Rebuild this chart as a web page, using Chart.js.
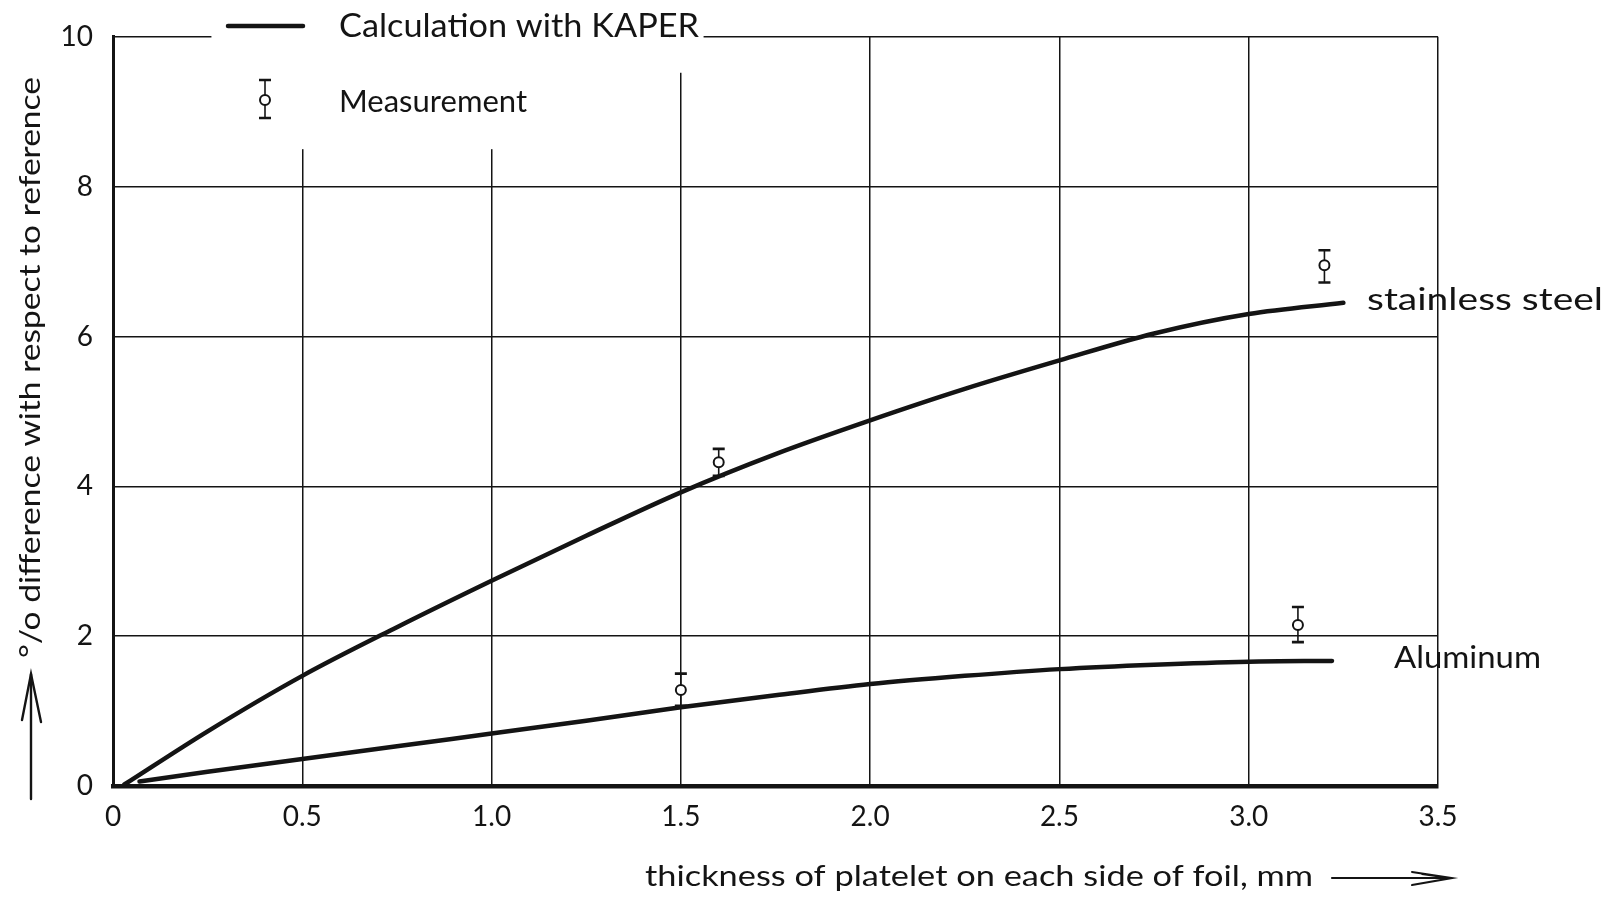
<!DOCTYPE html>
<html><head><meta charset="utf-8">
<script src="https://cdn.jsdelivr.net/npm/chart.js@4.4.1/dist/chart.umd.min.js"></script>
<style>html,body{margin:0;padding:0;background:#fff;}canvas{display:block;}</style>
</head><body>
<canvas id="c" width="1611" height="898"></canvas>
<script>
// ---- data ----
const xTicks = [0, 0.5, 1.0, 1.5, 2.0, 2.5, 3.0, 3.5];
const xTickLabels = ['0', '0.5', '1.0', '1.5', '2.0', '2.5', '3.0', '3.5'];
const yTicks = [0, 2, 4, 6, 8, 10];
const yTickLabels = ['0', '2', '4', '6', '8', '10'];
const steelX = [0.03, 0.25, 0.5, 0.75, 1.0, 1.25, 1.5, 1.75, 2.0, 2.25, 2.5, 2.75, 3.0, 3.25];
const steelY = [0.02, 0.73, 1.47, 2.12, 2.74, 3.34, 3.92, 4.43, 4.88, 5.30, 5.68, 6.04, 6.30, 6.45];
const aluX = [0.07, 0.25, 0.5, 0.75, 1.0, 1.25, 1.5, 1.75, 2.0, 2.25, 2.5, 2.75, 3.0, 3.22];
const aluY = [0.06, 0.19, 0.36, 0.53, 0.70, 0.87, 1.05, 1.21, 1.36, 1.47, 1.56, 1.62, 1.66, 1.67];
const measX = [1.5, 1.6, 3.13, 3.2];
const measY = [1.28, 4.32, 2.15, 6.95];
const measLow = [1.07, 4.14, 1.92, 6.72];
const measHigh = [1.50, 4.50, 2.39, 7.15];
const seriesLabels = ['stainless steel', 'Aluminum'];
const legendLabels = ['Calculation with KAPER', 'Measurement'];
const xTitle = 'thickness of platelet on each side of foil, mm';
const yTitle = '°/o difference with respect to reference';

const INK = '#141414';
const FONT = 'Lato, "Open Sans", sans-serif';

function fitText(ctx, text, left, right, baseline, size, rot) {
  ctx.save();
  ctx.font = size + 'px ' + FONT;
  ctx.fillStyle = INK;
  ctx.textBaseline = 'alphabetic';
  ctx.textAlign = 'left';
  const w = ctx.measureText(text).width;
  const s = (right - left) / w;
  if (rot) {
    // text reading bottom-to-top; left=bottom y, right=top y, baseline=x
    ctx.translate(baseline, left);
    ctx.rotate(-Math.PI / 2);
    ctx.scale((left - right) / w, 1);
    ctx.fillText(text, 0, 0);
  } else {
    ctx.translate(left, baseline);
    ctx.scale(s, 1);
    ctx.fillText(text, 0, 0);
  }
  ctx.restore();
}

const decor = {
  id: 'decor',
  beforeDatasetsDraw(chart) {
    const { ctx, scales: { x, y } } = chart;
    ctx.save();
    // blank part of the grid behind the legend
    ctx.fillStyle = '#fff';
    const top = y.getPixelForValue(10) - 4;
    let x1 = x.getPixelForValue(0.26), x2 = x.getPixelForValue(1.47);
    let yb = y.getPixelForValue(8.5);
    ctx.fillRect(x1, top, x2 - x1, yb - top);
    x1 = x2; x2 = x.getPixelForValue(1.56); yb = y.getPixelForValue(9.52);
    ctx.fillRect(x1, top, x2 - x1, yb - top);
    // error bars
    ctx.strokeStyle = INK;
    for (let i = 0; i < measX.length; i++) {
      const px = x.getPixelForValue(measX[i]);
      const pl = y.getPixelForValue(measLow[i]);
      const ph = y.getPixelForValue(measHigh[i]);
      ctx.lineWidth = 1.6;
      ctx.beginPath(); ctx.moveTo(px, pl); ctx.lineTo(px, ph); ctx.stroke();
      ctx.lineWidth = 2.6;
      ctx.beginPath();
      ctx.moveTo(px - 6, ph); ctx.lineTo(px + 6, ph);
      ctx.moveTo(px - 6, pl); ctx.lineTo(px + 6, pl);
      ctx.stroke();
    }
    ctx.restore();
  },
  afterDraw(chart) {
    const { ctx } = chart;
    ctx.save();
    ctx.strokeStyle = INK;
    ctx.lineCap = 'round';
    // legend: line
    ctx.lineWidth = 4.5;
    ctx.beginPath(); ctx.moveTo(228, 26); ctx.lineTo(303, 26); ctx.stroke();
    fitText(ctx, legendLabels[0], 339, 699, 37, 32);
    // legend: measurement symbol
    ctx.lineCap = 'butt';
    ctx.lineWidth = 1.6;
    ctx.beginPath(); ctx.moveTo(265, 80); ctx.lineTo(265, 118); ctx.stroke();
    ctx.lineWidth = 2.6;
    ctx.beginPath(); ctx.moveTo(259, 80); ctx.lineTo(271, 80); ctx.moveTo(259, 118); ctx.lineTo(271, 118); ctx.stroke();
    ctx.fillStyle = '#fff'; ctx.lineWidth = 2;
    ctx.beginPath(); ctx.arc(265, 100, 5, 0, Math.PI * 2); ctx.fill(); ctx.stroke();
    fitText(ctx, legendLabels[1], 339, 527, 112, 30);
    // series labels
    fitText(ctx, seriesLabels[0], 1367, 1603, 310, 31);
    fitText(ctx, seriesLabels[1], 1394, 1541, 668, 31);
    // x title + arrow
    fitText(ctx, xTitle, 645, 1313, 886, 29);
    ctx.lineWidth = 2.2; ctx.lineCap = 'round';
    ctx.beginPath(); ctx.moveTo(1332, 878); ctx.lineTo(1450, 878); ctx.stroke();
    ctx.lineWidth = 2;
    ctx.beginPath();
    ctx.moveTo(1412, 872); ctx.lineTo(1452, 878); ctx.lineTo(1412, 885);
    ctx.moveTo(1422, 874); ctx.lineTo(1450, 878);
    ctx.stroke();
    // y title + arrow
    fitText(ctx, yTitle, 658, 77, 40, 29, true);
    ctx.lineWidth = 2.4;
    ctx.beginPath(); ctx.moveTo(31, 799); ctx.lineTo(31, 674); ctx.stroke();
    ctx.beginPath();
    ctx.moveTo(22, 720); ctx.lineTo(31, 674); ctx.lineTo(41, 722);
    ctx.stroke();
    ctx.restore();
  }
};

new Chart(document.getElementById('c'), {
  type: 'scatter',
  data: {
    datasets: [
      {
        label: legendLabels[1],
        data: measX.map((v, i) => ({ x: v, y: measY[i] })),
        pointRadius: 5, pointHoverRadius: 5,
        pointBackgroundColor: '#fff', pointBorderColor: INK, pointBorderWidth: 2,
        showLine: false
      },
      {
        label: seriesLabels[0],
        data: steelX.map((v, i) => ({ x: v, y: steelY[i] })),
        showLine: true, borderColor: INK, borderWidth: 4.5, pointRadius: 0,
        cubicInterpolationMode: 'monotone', borderCapStyle: 'round'
      },
      {
        label: seriesLabels[1],
        data: aluX.map((v, i) => ({ x: v, y: aluY[i] })),
        showLine: true, borderColor: INK, borderWidth: 4.5, pointRadius: 0,
        cubicInterpolationMode: 'monotone', borderCapStyle: 'round'
      }
    ]
  },
  options: {
    responsive: false,
    animation: false,
    devicePixelRatio: 1,
    layout: { padding: { top: 34, right: 173, left: 0, bottom: 0 } },
    plugins: { legend: { display: false }, tooltip: { enabled: false } },
    scales: {
      x: {
        type: 'linear', min: 0, max: 3.5,
        afterBuildTicks: s => { s.ticks = xTicks.map(v => ({ value: v })); },
        afterFit: s => { s.height = 112; },
        ticks: {
          callback: v => xTickLabels[xTicks.indexOf(v)],
          font: { family: FONT, size: 28 }, color: INK, padding: 14, maxRotation: 0
        },
        grid: { color: INK, lineWidth: 1.5, drawTicks: false },
        border: { color: INK, width: 4.5 }
      },
      y: {
        type: 'linear', min: 0, max: 10,
        afterBuildTicks: s => { s.ticks = yTicks.map(v => ({ value: v })); },
        afterFit: s => { s.width = 113; },
        ticks: {
          callback: v => yTickLabels[yTicks.indexOf(v)],
          font: { family: FONT, size: 28 }, color: INK, padding: 20
        },
        grid: { color: INK, lineWidth: 1.5, drawTicks: false },
        border: { color: INK, width: 3 }
      }
    }
  },
  plugins: [decor]
});
</script>
</body></html>
